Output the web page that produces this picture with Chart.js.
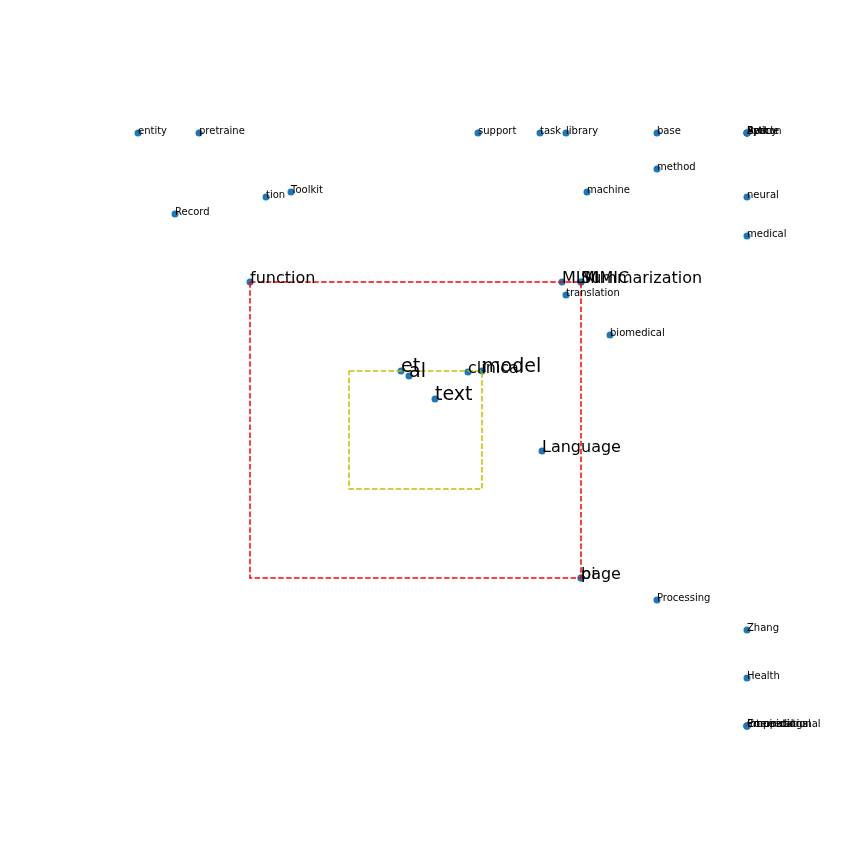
<!DOCTYPE html>
<html>
<head>
<meta charset="utf-8">
<script src="https://cdn.jsdelivr.net/npm/chart.js@4.4.1/dist/chart.umd.min.js"></script>
<style>
html,body{margin:0;padding:0;background:#fff;}
#wrap{width:864px;height:864px;position:relative;}
</style>
</head>
<body>
<div id="wrap"><canvas id="c"></canvas></div>
<script>
// Words and their 2-D layout positions (pixel-like units)
const words = ["entity","pretraine","Record","tion","Toolkit","support","task","library","base","method","machine",
  "Python","Spacy","Article","Bert","neural","medical",
  "function","MLM","MIMIC","Summarization","translation","biomedical",
  "et","al","clinical","model","text","Language","bi","page","Processing",
  "Zhang","Health","Empirical","Proceedings","International","Computational"];
const xs = [138,199,175,266,291,478,540,566,657,657,587,
  747,747,747,747,747,747,
  250,562,581,581,566,610,
  401,409,468,482,435,542,581,581,657,
  747,747,747,747,747,747];
const ys = [133,133,214,197,192,133,133,133,133,169,192,
  133,133,133,133,197,236,
  282,282,282,282,295,335,
  371,376,372,371,399,451,578,578,600,
  630,678,726,726,726,726];
// importance level of each word (0 = minor, 1 = key, 2 = core)
const importance = [0,0,0,0,0,0,0,0,0,0,0,
  0,0,0,0,0,0,
  1,1,1,1,0,0,
  2,2,1,2,2,1,1,1,0,
  0,0,0,0,0,0];
// highlighted cluster boxes: [x0, y0, x1, y1]
const outerBox = [250,282,581,578];
const innerBox = [349,371,482,489];

function boxPath(b){
  return [{x:b[0],y:b[1]},{x:b[2],y:b[1]},{x:b[2],y:b[3]},{x:b[0],y:b[3]},{x:b[0],y:b[1]}];
}
const pts = words.map((w,i)=>({x:xs[i],y:ys[i]}));
const fontSizes = [10,16,19];

const labelPlugin = {
  id:'wordLabels',
  afterDatasetsDraw(chart){
    const ctx = chart.ctx;
    const sx = chart.scales.x, sy = chart.scales.y;
    ctx.save();
    ctx.fillStyle = '#000';
    ctx.textAlign = 'left';
    ctx.textBaseline = 'alphabetic';
    words.forEach((w,i)=>{
      const fs = fontSizes[importance[i]];
      ctx.font = fs + 'px "DejaVu Sans"';
      ctx.fillText(w, sx.getPixelForValue(xs[i]), sy.getPixelForValue(ys[i]) + 1);
    });
    ctx.restore();
  }
};

new Chart(document.getElementById('c'), {
  type:'scatter',
  data:{
    datasets:[
      {label:'outer', data:boxPath(outerBox), showLine:true, borderColor:'#ff0000', borderWidth:1.5,
       borderDash:[5.5,2.4], pointRadius:0, fill:false, order:0, tension:0},
      {label:'inner', data:boxPath(innerBox), showLine:true, borderColor:'#bfbf00', borderWidth:1.5,
       borderDash:[5.5,2.4], pointRadius:0, fill:false, order:0, tension:0},
      {label:'words', data:pts, backgroundColor:'#1f77b4', borderColor:'#1f77b4', pointRadius:3.5,
       pointBorderWidth:0, order:1}
    ]
  },
  options:{
    responsive:true, maintainAspectRatio:false, animation:false,
    layout:{padding:0, autoPadding:false},
    plugins:{legend:{display:false}, tooltip:{enabled:false}},
    scales:{
      x:{type:'linear', min:0, max:864, display:false},
      y:{type:'linear', min:0, max:864, reverse:true, display:false}
    }
  },
  plugins:[labelPlugin]
});
</script>
</body>
</html>
